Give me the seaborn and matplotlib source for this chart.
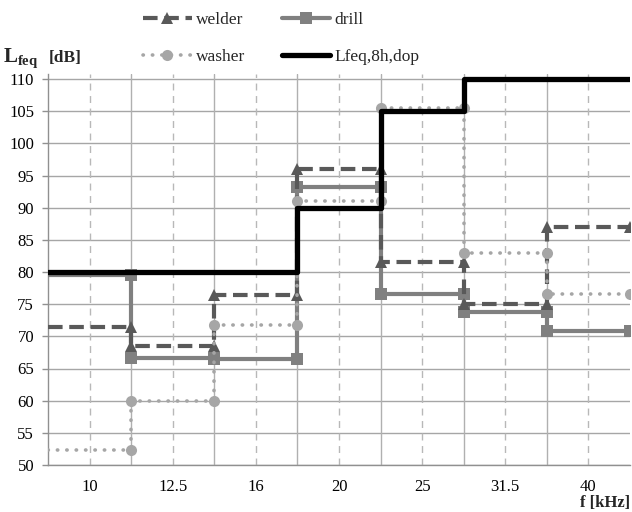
import matplotlib
matplotlib.use("Agg")
import numpy as np
import pandas as pd
import matplotlib.pyplot as plt
import seaborn as sns

# one value per 1/3-octave band
freqs = ["10", "12.5", "16", "20", "25", "31.5", "40"]
welder = [71.5, 68.5, 76.5, 96.0, 81.5, 75.0, 87.0]
drill = [79.5, 66.7, 66.4, 93.2, 76.6, 73.8, 70.8]
washer = [52.4, 60.0, 71.7, 91.0, 105.5, 82.9, 76.6]
limit = [80, 80, 80, 90, 105, 110, 110]


def steps(vals):
    # corners of a step curve, band i spans [i, i+1]
    xs, ys = [], []
    for i, v in enumerate(vals):
        xs += [i, i + 1]
        ys += [v, v]
    return pd.DataFrame({"x": xs, "y": ys})


sns.set_theme(style="white")
plt.rcParams["font.family"] = ["Liberation Serif", "DejaVu Serif"]
plt.rcParams["mathtext.fontset"] = "custom"
plt.rcParams["mathtext.rm"] = "Liberation Serif"
plt.rcParams["mathtext.bf"] = "Liberation Serif:bold"

fig = plt.figure(figsize=(6.32, 5.12), dpi=100)
px_db = 386 / 60
top_px = 79 - 0.8 * px_db
ax = fig.add_axes([48 / 632, 47 / 512, 582 / 632, (465 - top_px) / 512])

common = dict(ax=ax, x="x", y="y", sort=False, estimator=None)

sns.lineplot(data=steps(drill), color="#808080", lw=3, marker="s", ms=8,
             markevery=slice(1, None), mec="#808080", mew=0, label="drill",
             zorder=3, **common)
sns.lineplot(data=steps(welder), color="#595959", lw=3, linestyle=(0, (3.5, 1.6)),
             marker="^", ms=8, markevery=slice(1, None), mec="#595959", mew=0,
             label="welder", zorder=4, **common)
sns.lineplot(data=steps(washer), color="#a6a6a6", lw=2.6, linestyle=(0, (0.1, 2.5)),
             dash_capstyle="round", marker="o", ms=8, markevery=slice(1, None),
             mec="#a6a6a6", mew=0, label="washer", zorder=5, **common)
sns.lineplot(data=steps(limit), color="black", lw=3.8, label="Lfeq,8h,dop",
             zorder=6, **common)

ax.set_xlim(0, len(freqs))
ax.set_ylim(50, 110.8)
ax.set_yticks(np.arange(50, 111, 5))
ax.set_xticks(np.arange(len(freqs)) + 0.5)
ax.set_xticklabels(freqs)
ax.set_xticks(np.arange(len(freqs) + 1), minor=True)
ax.set_xlabel("")
ax.set_ylabel("")

ax.grid(False)
for y in np.arange(50, 111, 5):
    ax.axhline(y, color="#a6a6a6", lw=1, zorder=1)
for x in np.arange(1, len(freqs)):
    ax.axvline(x, color="#b0b0b0", lw=1, zorder=1)
for x in np.arange(len(freqs)) + 0.5:
    ax.axvline(x, color="#b8b8b8", lw=1, ls=(0, (5, 4)), zorder=1)

for s in ["top", "right"]:
    ax.spines[s].set_visible(False)
for s in ["left", "bottom"]:
    ax.spines[s].set_color("#909090")
    ax.spines[s].set_linewidth(1)

ax.tick_params(axis="x", which="major", length=0, pad=10, labelsize=12, colors="black")
ax.tick_params(axis="x", which="minor", length=4, width=1, color="#909090", direction="out")
ax.tick_params(axis="y", length=4, width=1, color="#909090", direction="out",
               pad=6, labelsize=12, labelcolor="black", left=True)

h, l = ax.get_legend_handles_labels()
order = [l.index(n) for n in ["welder", "washer", "drill", "Lfeq,8h,dop"]]
ax.legend([h[i] for i in order], [l[i] for i in order], ncol=2, loc="upper left",
          bbox_to_anchor=(143 / 632, 1 - 12 / 512), bbox_transform=fig.transFigure,
          frameon=False, fontsize=12.5, handlelength=2.8, handletextpad=0.25,
          columnspacing=2.1, labelspacing=1.2, borderpad=0, borderaxespad=0)

fig.text(3 / 632, 1 - 62 / 512, r"$\mathbf{L}_{\mathbf{feq}}$", fontsize=15,
         va="baseline", ha="left")
fig.text(49 / 632, 1 - 62 / 512, "[dB]", fontsize=12.5, fontweight="bold",
         va="baseline", ha="left")
fig.text(630 / 632, 1 / 512, "f [kHz]", fontsize=12, fontweight="bold",
         va="bottom", ha="right")

fig.savefig("out.png", dpi=100)
